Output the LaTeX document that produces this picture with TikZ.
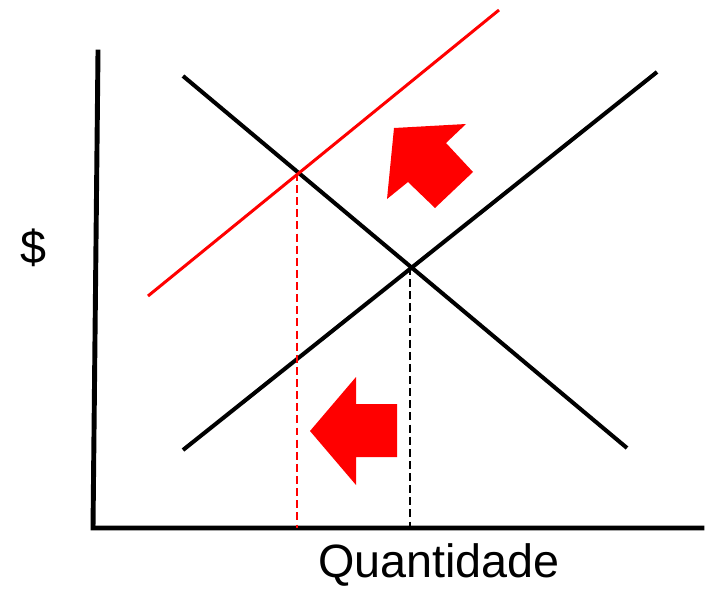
\documentclass[tikz,border=0pt]{standalone}
\usepackage{fontspec}
\setmainfont{Liberation Sans}
\usepackage{tikz}

\begin{document}
\begin{tikzpicture}[
    x=0.02cm, y=-0.02cm,
    axis/.style={draw=black, line width=2.8pt, line cap=rect},
    curve/.style={draw=black, line width=2.3pt},
    newcurve/.style={draw=red, line width=1.7pt},
    guide/.style={dash pattern=on 4.5pt off 2.4pt, line width=1pt},
    shiftarrow/.style={fill=red, draw=none},
    axislabel/.style={font=\fontsize{26.6}{32}\selectfont, inner sep=0pt},
]
\useasboundingbox (0,0) rectangle (705,588);

% Eixos
\coordinate (origin) at (93,528);
\draw[axis] (98,52) -- (origin) -- (702,528);

% Rótulos
\node[axislabel, anchor=base, text depth=0pt] (xlab) at (439,577) {Quantidade};
\node[axislabel] (ylab) at (33,248) {\$};

% Demanda e oferta
\coordinate (dtop) at (183,76);
\coordinate (dbot) at (627,448);
\coordinate (sbot) at (183,450);
\coordinate (stop) at (657,72);
\draw[curve] (dtop) -- (dbot);
\draw[curve] (sbot) -- (stop);

% Nova oferta
\coordinate (rbot) at (148,296);
\coordinate (rtop) at (499,10);
\draw[newcurve] (rbot) -- (rtop);

% Equilíbrios
\coordinate (eq) at (410,267);
\coordinate (neweq) at (297,173);
\draw[guide, black] (eq) -- (eq |- origin);
\draw[guide, red] (neweq) -- (neweq |- origin);

% Setas
\fill[shiftarrow] (394,128) -- (466,124) -- (446,143) -- (473,172)
    -- (435,208) -- (408,182) -- (387,199) -- cycle;
\fill[shiftarrow] (310,431) -- (356,377) -- (356,404) -- (397,404)
    -- (397,457) -- (356,457) -- (356,485) -- cycle;

\end{tikzpicture}
\end{document}
